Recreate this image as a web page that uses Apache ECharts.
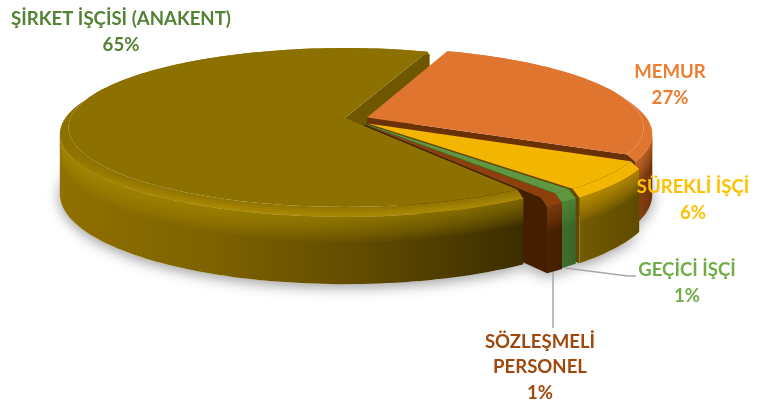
<!DOCTYPE html>
<html><head><meta charset="utf-8">
<style>html,body{margin:0;padding:0;background:#fff}#c{width:772px;height:408px}</style>
<script src="https://cdn.jsdelivr.net/npm/echarts@6/dist/echarts.min.js"></script>
</head><body><div id="c"></div>
<script>
// clockwise from the main slice's cut edge
const categories = ['MEMUR', 'SÜREKLİ İŞÇİ', 'GEÇİCİ İŞÇİ', 'SÖZLEŞMELİ\nPERSONEL', 'ŞİRKET İŞÇİSİ (ANAKENT)'];
const values = [27, 6, 1, 1, 65];
const percentLabels = ['27%', '6%', '1%', '1%', '65%'];
const topColors = ['#e0752f', '#f3b600', '#5f9640', '#8f3f0c', '#8c7000'];
const labelColors = ['#ed7d31', '#ffc000', '#70ad47', '#9e480e', '#548235'];
const wallColors = [
  ['#8a4515', '#6e3208'], ['#745b00', '#604b00'], ['#3f6e2c', '#3a662a'], ['#4a2200', '#431e00'],
  ['#8f7000', '#7d6200', '#604a00', '#3b2d00']
];
const cutColors = ['#6a3006', '#5f4a00', '#3a662a', '#431e00', '#6e5700'];
const rimHighlights = ['240,130,60', '245,185,10', '100,160,70', '170,80,25', '190,150,0'];
const offsets = [[0.078, 0.0075], [0.08, -0.068], [0.068, -0.072], [0.068, -0.08], [0, 0]];
const labelAnchors = [[670, 85], [693, 200], [687, 283], [540, 367], [121, 32]];
const leaderLines = [null, null, [[565, 268], [628, 276], [636, 276]], [[553, 272], [553, 328]], null];

// projection of the pie
const CX = 345, CY = 118, AX = 283, AY = -66.2, PERSP = 0.123;
const START_DEG = 19.5, R_TOP = 0.97, RIM_DROP = 6, HEIGHT = 65;
const SIL = 97; // silhouette angle: outer wall is visible between SIL and 360-SIL

const total = values.reduce((a, b) => a + b, 0);
const spans = []; let acc = START_DEG;
values.forEach(v => { const s = acc, e = acc + v / total * 360; spans.push([s, e]); acc = e; });

function P(off, deg, r, drop) {
  const t = deg * Math.PI / 180;
  const u = off[0] + r * Math.sin(t), v = off[1] + r * Math.cos(t), d = 1 + PERSP * v;
  return [CX + AX * u / d, (CY + AY * v + drop) / d];
}
function arc(off, a, b, r, drop) {
  const n = Math.max(2, Math.ceil(Math.abs(b - a) / 1.5)), pts = [];
  for (let i = 0; i <= n; i++) pts.push(P(off, a + (b - a) * i / n, r, drop));
  return pts;
}
function band(off, a, b, r1, d1, r2, d2) {
  return arc(off, a, b, r1, d1).concat(arc(off, b, a, r2, d2));
}
function poly(points, style) {
  return { type: 'polygon', shape: { points }, style, silent: true };
}
function hGrad(stops) {
  return { type: 'linear', x: 0, y: 0, x2: 1, y2: 0,
    colorStops: stops.map((c, i) => ({ offset: i / (stops.length - 1), color: c })) };
}
function frontFade(rgb, alpha) { // transparent on the far half, full on the near half
  return { type: 'linear', x: 0, y: 140, x2: 0, y2: 205, global: true,
    colorStops: [{ offset: 0, color: 'rgba(' + rgb + ',0)' }, { offset: 1, color: 'rgba(' + rgb + ',' + alpha + ')' }] };
}
function cutWall(i) {
  const off = offsets[i], e = spans[i][1];
  return poly([P(off, 0, 0, 0), P(off, e, R_TOP, 0), P(off, e, 1, RIM_DROP), P(off, e, 1, HEIGHT), P(off, 0, 0, HEIGHT)],
    { fill: cutColors[i] });
}
function sliceGroup(i) {
  const off = offsets[i], s = spans[i][0], e = spans[i][1], kids = [];
  const a = Math.max(s, SIL), b = Math.min(e, 360 - SIL);
  if (i !== values.length - 1) kids.push(cutWall(i));
  if (b > a) {
    kids.push(poly(band(off, a, b, 1, RIM_DROP, 1, HEIGHT), { fill: hGrad(wallColors[i]) }));
    for (let k = 1; k <= 10; k++) { // nested soft layers: strongest right under the rim
      kids.push(poly(band(off, a, b, 1, RIM_DROP, 1, RIM_DROP + k * 2.2),
        { fill: 'rgba(' + rimHighlights[i] + ',0.07)' }));
    }
  }
  kids.push(poly(band(off, s, e, R_TOP, 0, 1, RIM_DROP), { fill: topColors[i] }));
  kids.push(poly([P(off, 0, 0, 0)].concat(arc(off, s, e, R_TOP, 0)), { fill: topColors[i] }));
  if (i === values.length - 1) { // the bevel brightens softly toward the outer edge on the near side
    for (let k = 1; k <= 6; k++) {
      const f = k / 6;
      kids.push(poly(band(off, s, e, 1 - 0.03 * f, RIM_DROP * (1 - f), 1, RIM_DROP), { fill: frontFade('215,175,10', 0.08) }));
    }
  }
  return { type: 'group', children: kids };
}

const chart = echarts.init(document.getElementById('c'), null, { renderer: 'canvas' });
const idx = values.map((_, i) => i);
chart.setOption({
  animation: false,
  backgroundColor: '#fff',
  series: [
    { // soft floor shadow and the far cut wall of the large slice
      type: 'custom', coordinateSystem: 'none', z: 1, silent: true, data: idx,
      renderItem(p) {
        const i = p.dataIndex, off = offsets[i];
        const kids = [poly([P(off, 0, 0, HEIGHT)].concat(arc(off, spans[i][0], spans[i][1], 1, HEIGHT)), {
          fill: '#fff', shadowBlur: 14, shadowColor: 'rgba(0,0,0,0.4)', shadowOffsetY: 3 })];
        if (i === values.length - 1) kids.push(cutWall(i));
        return { type: 'group', children: kids };
      }
    },
    { type: 'custom', coordinateSystem: 'none', z: 2, silent: true, data: idx,
      renderItem(p) { return sliceGroup(p.dataIndex); } },
    { type: 'custom', coordinateSystem: 'none', z: 3, silent: true, data: idx,
      renderItem(p) {
        const i = p.dataIndex, kids = [];
        if (leaderLines[i]) kids.push({ type: 'polyline', shape: { points: leaderLines[i] },
          style: { stroke: '#a6a6a6', lineWidth: 1.5, fill: 'none' }, silent: true });
        kids.push({ type: 'text', x: labelAnchors[i][0], y: labelAnchors[i][1], silent: true, style: {
          text: categories[i] + '\n' + percentLabels[i], fill: labelColors[i], align: 'center', verticalAlign: 'middle',
          font: 'bold 18.6px Lato', lineHeight: 25.5 } });
        return { type: 'group', children: kids };
      } }
  ]
});
</script></body></html>
